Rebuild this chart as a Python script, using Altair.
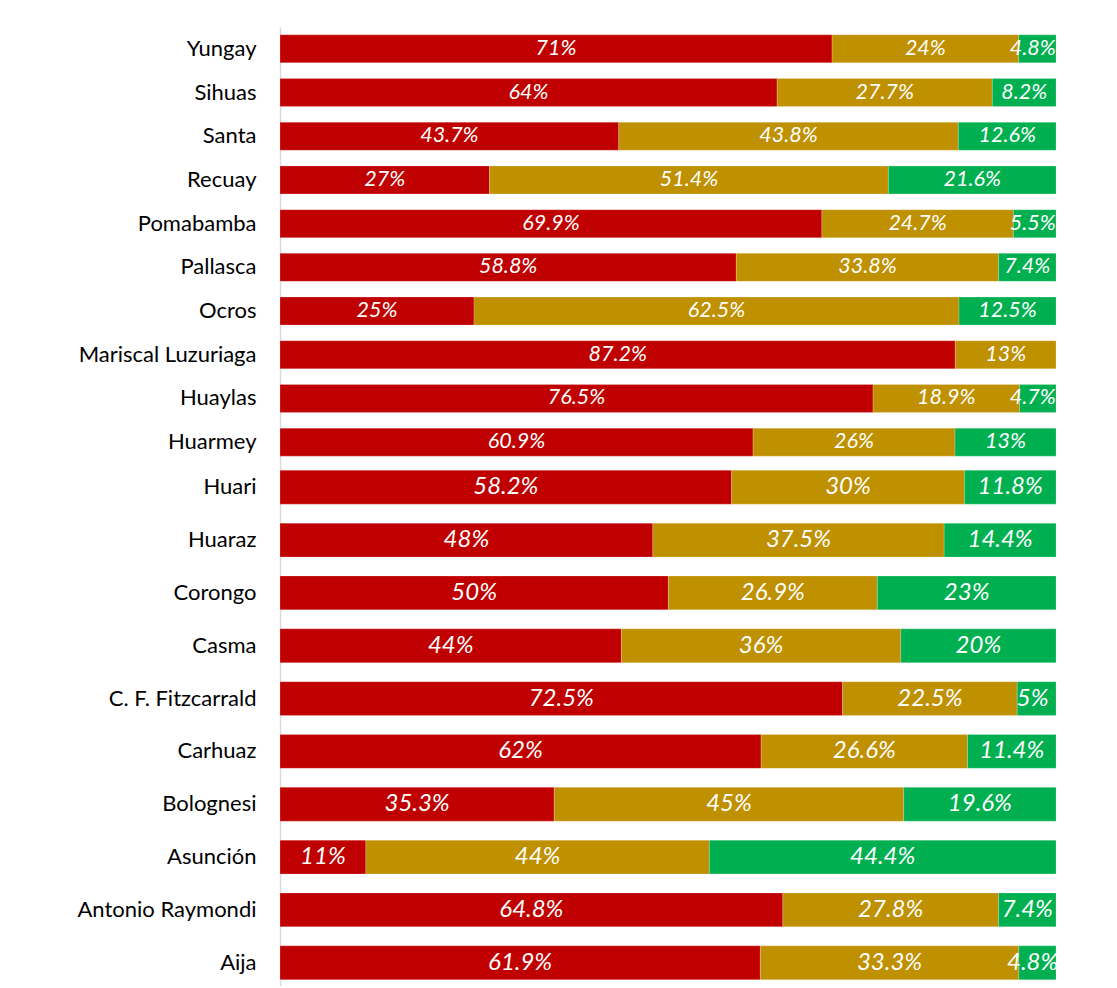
import altair as alt
import pandas as pd

provinces_top = ["Yungay", "Sihuas", "Santa", "Recuay", "Pomabamba", "Pallasca",
                 "Ocros", "Mariscal Luzuriaga", "Huaylas", "Huarmey"]
provinces_bottom = ["Huari", "Huaraz", "Corongo", "Casma", "C. F. Fitzcarrald",
                    "Carhuaz", "Bolognesi", "Asunción", "Antonio Raymondi", "Aija"]

red_vals = [71, 64, 43.7, 27, 69.9, 58.8, 25, 87.2, 76.5, 60.9,
            58.2, 48, 50, 44, 72.5, 62, 35.3, 11, 64.8, 61.9]
gold_vals = [24, 27.7, 43.8, 51.4, 24.7, 33.8, 62.5, 13, 18.9, 26,
             30, 37.5, 26.9, 36, 22.5, 26.6, 45, 44, 27.8, 33.3]
green_vals = [4.8, 8.2, 12.6, 21.6, 5.5, 7.4, 12.5, 0, 4.7, 13,
              11.8, 14.4, 23, 20, 5, 11.4, 19.6, 44.4, 7.4, 4.8]

categories = ["Rojo", "Ámbar", "Verde"]
colors = ["#C00000", "#BF9000", "#00B050"]

provinces = provinces_top + provinces_bottom
rows = []
for i, p in enumerate(provinces):
    part = "top" if i < len(provinces_top) else "bottom"
    for k, (cat, vals) in enumerate(zip(categories, [red_vals, gold_vals, green_vals])):
        v = vals[i]
        if v <= 0:
            continue
        rows.append({"province": p, "cat": cat, "order": k, "value": v,
                     "label": f"{v:g}%", "part": part})
df = pd.DataFrame(rows)


def panel(part, plist, height, fsize, pouter):
    base = alt.Chart(df).transform_filter(
        alt.datum.part == part
    ).transform_joinaggregate(
        total="sum(value)", groupby=["province"]
    ).transform_window(
        cum="sum(value)", sort=[alt.SortField("order")], groupby=["province"],
        frame=[None, 0]
    ).transform_calculate(
        x0="(datum.cum - datum.value) / datum.total",
        x1="datum.cum / datum.total",
    ).transform_calculate(
        mid="min((datum.x0 + datum.x1) / 2, 0.97)"
    )
    yenc = alt.Y("province:N", sort=plist, title=None,
                 scale=alt.Scale(paddingInner=0.36, paddingOuter=pouter),
                 axis=alt.Axis(labelFont="Lato", labelFontSize=22, labelColor="#000000",
                               labelPadding=24, ticks=False, domainColor="#D9D9D9",
                               domainWidth=1.5, minExtent=272, maxExtent=272))
    xscale = alt.Scale(domain=[0, 1], nice=False, zero=True)
    bars = base.mark_bar(stroke="#FFFFFF", strokeWidth=0.4, strokeOpacity=0.5).encode(
        y=yenc,
        x=alt.X("x0:Q", scale=xscale, axis=None),
        x2="x1:Q",
        color=alt.Color("cat:N", scale=alt.Scale(domain=categories, range=colors), legend=None),
    )
    text = base.mark_text(color="white", font="Lato", fontStyle="italic",
                          fontSize=fsize, align="center", baseline="middle").encode(
        y=alt.Y("province:N", sort=plist),
        x=alt.X("mid:Q", scale=xscale),
        text="label:N",
    )
    return alt.layer(bars, text).properties(width=776, height=height)


top = panel("top", provinces_top, 437, 21.5, 0.18)
bottom = panel("bottom", provinces_bottom, 522, 24, 0.12)

chart = alt.vconcat(top, bottom, spacing=0).properties(
    padding={"left": 0, "top": 19, "right": 5, "bottom": 0},
    background="white",
).configure_view(stroke=None)

chart.save("out.html", embed_options={"renderer": "svg", "actions": False})
